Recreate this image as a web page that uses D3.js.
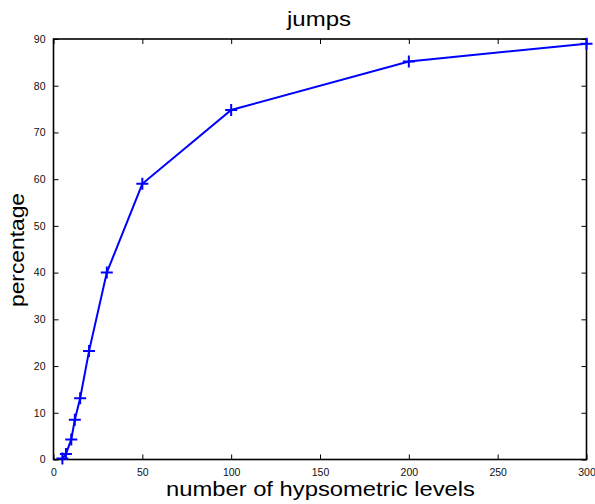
<!DOCTYPE html>
<html><head><meta charset="utf-8">
<script src="https://cdn.jsdelivr.net/npm/d3@7"></script>
<style>body{margin:0;background:#fff}svg{display:block}text{font-family:"Liberation Sans",Arial,sans-serif}</style>
</head><body><svg id="c" width="595" height="504"></svg>
<script>
const levels = [5, 7, 10, 12, 15, 20, 30, 50, 100, 200, 300];
const percentage = [0.2, 1.2, 4.3, 8.5, 13.1, 23.2, 40.0, 59.0, 74.8, 85.2, 89.0];
const xTicks = [0, 50, 100, 150, 200, 250, 300];
const yTicks = [0, 10, 20, 30, 40, 50, 60, 70, 80, 90];
const data = levels.map((d, i) => ({x: d, y: percentage[i]}));

const svg = d3.select("#c");
const L = 53.5, R = 586.5, T = 39, B = 459.5;
const x = d3.scaleLinear().domain([0, 300]).range([L, R]);
const y = d3.scaleLinear().domain([0, 90]).range([B, T]);

const tl = 5;
function styleAxis(g){
  g.select(".domain").remove();
  g.selectAll(".tick line").attr("stroke", "#000").attr("stroke-width", 1);
  g.selectAll(".tick text").attr("fill", "#111").style("font-size", "10.5px").style("font-family", '"Liberation Sans",Arial,sans-serif');
}
svg.append("g").attr("transform", `translate(0,${B})`)
  .call(d3.axisBottom(x).tickValues(xTicks).tickSizeInner(-tl).tickSizeOuter(0).tickPadding(9))
  .call(styleAxis);
svg.append("g").attr("transform", `translate(0,${T})`)
  .call(d3.axisTop(x).tickValues(xTicks).tickSizeInner(-tl).tickSizeOuter(0).tickFormat(""))
  .call(styleAxis);
svg.append("g").attr("transform", `translate(${L},0)`)
  .call(d3.axisLeft(y).tickValues(yTicks).tickSizeInner(-tl).tickSizeOuter(0).tickPadding(8))
  .call(styleAxis);
svg.append("g").attr("transform", `translate(${R},0)`)
  .call(d3.axisRight(y).tickValues(yTicks).tickSizeInner(-tl).tickSizeOuter(0).tickFormat(""))
  .call(styleAxis);

svg.append("rect").attr("x", L).attr("y", T).attr("width", R - L).attr("height", B - T)
  .attr("fill", "none").attr("stroke", "#000").attr("stroke-width", 1.6);

const line = d3.line().x(d => x(d.x)).y(d => y(d.y));
svg.append("path").datum(data).attr("d", line)
  .attr("fill", "none").attr("stroke", "#0000ff").attr("stroke-width", 2);

const m = 6;
svg.append("g").selectAll("path.mk").data(data).join("path")
  .attr("d", d => `M${x(d.x)-m},${y(d.y)}H${x(d.x)+m}M${x(d.x)},${y(d.y)-m}V${y(d.y)+m}`)
  .attr("stroke", "#0000ff").attr("stroke-width", 2).attr("fill", "none");

svg.append("text").attr("x", 319).attr("y", 26).attr("text-anchor", "middle")
  .attr("textLength", 64).attr("lengthAdjust", "spacingAndGlyphs")
  .style("font-size", "20.5px").text("jumps");
svg.append("text").attr("x", 320.5).attr("y", 496).attr("text-anchor", "middle")
  .attr("textLength", 309).attr("lengthAdjust", "spacingAndGlyphs")
  .style("font-size", "20.5px").text("number of hypsometric levels");
svg.append("text").attr("transform", `translate(24,250) rotate(-90)`).attr("text-anchor", "middle")
  .attr("textLength", 114).attr("lengthAdjust", "spacingAndGlyphs")
  .style("font-size", "20.5px").text("percentage");
</script></body></html>
